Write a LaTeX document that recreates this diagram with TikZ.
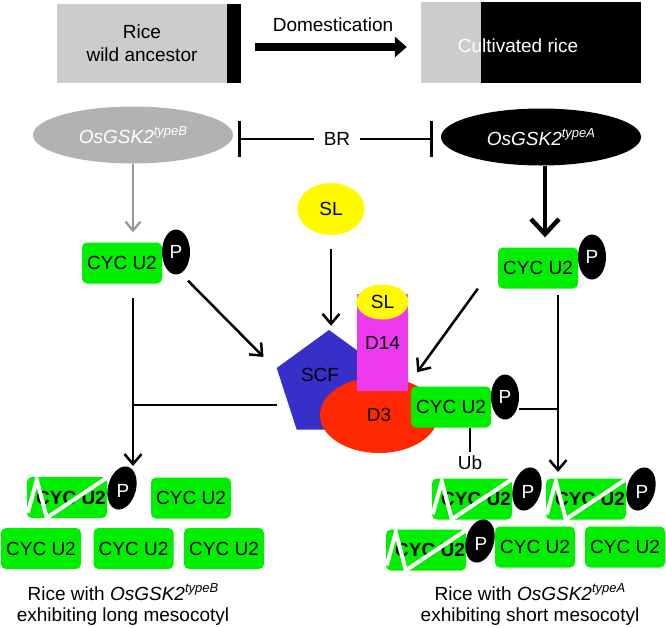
\documentclass[tikz,border=0pt]{standalone}
\usepackage{fontspec}
\setmainfont{Liberation Sans}
\usetikzlibrary{arrows.meta,shapes.geometric}
\definecolor{cgreen}{RGB}{0,238,0}
\definecolor{topgray}{RGB}{204,204,204}
\definecolor{ellgray}{RGB}{178,178,178}
\definecolor{arrgray}{RGB}{150,150,150}
\definecolor{scfblue}{RGB}{56,46,200}
\definecolor{dmag}{RGB}{238,58,238}
\definecolor{dred}{RGB}{255,40,0}
\definecolor{slyellow}{RGB}{255,250,0}
\newcommand\supit[1]{\raisebox{0.42em}{\fontsize{13}{13}\selectfont\itshape #1}}
\begin{document}
\begin{tikzpicture}[x=1pt,y=-1pt,
 every node/.style={font=\fontsize{19}{23}\selectfont, inner sep=0pt},
 cyc/.style={rectangle, rounded corners=5pt, fill=cgreen, minimum width=80pt, minimum height=41pt},
 xcyc/.style={cyc, font=\fontsize{19}{23}\selectfont\bfseries},
 pblob/.style={ellipse, fill=black, text=white, minimum width=28pt, minimum height=45pt},
 ptext/.style={text=white},
 arr/.style={draw=black, line width=2.5pt, -{Straight Barb[length=10pt,width=17pt]}},
 bigarr/.style={draw=black, line width=4.5pt, -{Straight Barb[length=15pt,width=28pt]}},
 grayarr/.style={draw=arrgray, line width=2.2pt, -{Straight Barb[length=9pt,width=15pt]}},
 domarr/.style={draw=black, line width=8pt, -{Triangle[length=12pt,width=20pt]}},
 inh/.style={draw=black, line width=2.5pt, {Bar[width=36pt]}-{Bar[width=36pt]}},
 plain/.style={draw=black, line width=2.5pt},
 zig/.style={draw=white, line width=4pt, line join=miter},
 blob/.style={fill=black}
]
\useasboundingbox (0,0) rectangle (666,627);

% ---------- top row ----------
\node[rectangle, fill=topgray, minimum width=170pt, minimum height=79pt, align=center] (wild) at (142,43.5) {Rice\\wild ancestor};
\fill[black] (wild.north east) rectangle ([xshift=14pt]wild.south east);
\node[rectangle, fill=black, minimum width=220pt, minimum height=81pt] (cultbox) at (531,42.5) {};
\fill[topgray] (cultbox.north west) rectangle ([xshift=60pt]cultbox.south west);
\node[text=white] (cult) at (518,46) {Cultivated rice};
\node (dom) at (333,25) {Domestication};
\draw[domarr, shorten <=14pt, shorten >=14pt] ([xshift=14pt, yshift=-3.5pt]wild.east) -- ([yshift=-4.5pt]cultbox.west);

% ---------- GSK2 ellipses ----------
\node[ellipse, fill=ellgray, text=white, minimum width=200pt, minimum height=57pt] (gsB) at (133,135) {\textit{OsGSK2}\supit{typeB}};
\node[ellipse, fill=black, text=white, minimum width=200pt, minimum height=57pt] (gsA) at (541,137) {\textit{OsGSK2}\supit{typeA}};
\draw[inh, shorten <=5pt, shorten >=8pt] ([yshift=-4pt]gsB.east) -- ([yshift=-2pt]gsA.west)
  node[midway, fill=white, inner xsep=10pt, inner ysep=3pt] (br) {BR};

% ---------- SL ----------
\node[ellipse, fill=slyellow, minimum width=67pt, minimum height=52pt] (sl) at (331,209) {SL};

% ---------- CYC U2 with P (upper) ----------
\node[cyc] (cycL) at (122,263) {CYC U2};
\node[pblob] (pL) at (176,252) {\raisebox{-3pt}{P}};
\node[cyc] (cycR) at (538,268) {CYC U2};
\node[pblob] (pR) at (592,257) {\raisebox{-3pt}{P}};

\draw[grayarr, shorten >=10pt] (gsB.south) -- (gsB.south |- cycL.north);
\draw[bigarr, shorten >=10pt] ([xshift=4pt]gsA.south) -- ([xshift=4pt]gsA.south |- cycR.north);

% ---------- SCF complex ----------
\node[regular polygon, regular polygon sides=5, fill=scfblue, minimum size=110pt] (scf) at (329,385) {};
\node (scft) at (320,375) {SCF};
\node[ellipse, fill=dred, minimum width=118pt, minimum height=76pt] (d3) at (379,415) {D3};
\node[rectangle, fill=dmag, minimum width=51pt, minimum height=97pt] (d14) at (382.5,342.5) {D14};
\node[ellipse, fill=slyellow, minimum width=52pt, minimum height=35pt] (sl2) at (382.5,302) {SL};
\node[cyc] (cycM) at (451,407) {CYC U2};
\node[pblob] (pM) at (505,397) {\raisebox{-3pt}{P}};
\node (ub) at (470,463) {Ub};
\draw[plain] ([xshift=19pt]cycM.south) -- ([yshift=4pt]ub.north);

\draw[arr, shorten <=14pt, shorten >=4pt] (sl.south) -- (sl.south |- scf.corner 1);
\draw[arr] ([shift={(12,6)}]pL.south) -- ([shift={(-13,-11)}]scf.corner 2);
\draw[arr] ([xshift=-20pt]cycR.south west) -- ([shift={(9,-19)}]d14.south east);

% ---------- vertical arrows & inhibition ----------
\coordinate (vL1) at (133,298);
\coordinate (vL2) at (133,466);
\coordinate (vR1) at (558,295);
\coordinate (vR2) at (558,472);
\draw[arr] (vL1) -- (vL2);
\draw[arr] (vR1) -- (vR2);
\coordinate (mL) at (277,405);
\draw[plain] (mL) -- (mL -| vL1);
\coordinate (mR) at ([yshift=-12pt]pM.east);
\draw[plain] (mR) -- (mR -| vR1);

% ---------- bottom left ----------
\node[xcyc] (xL1) at (67,497.5) {\hspace*{8pt}CYC U2};
\draw[zig] ([shift={(1,36)}]xL1.north west) -- ([shift={(10,3)}]xL1.north west) -- ([shift={(20,41)}]xL1.north west) -- ([shift={(86,-3)}]xL1.north west);
\coordinate (cxL1) at (122,488);
\fill[blob, rotate around={-15:(cxL1)}] (cxL1) ellipse [x radius=14, y radius=22];
\node[ptext] (pxL1) at (123,491) {P};
\node[cyc] (bL1) at (191,498) {CYC U2};
\node[cyc] (bL2) at (41,548.5) {CYC U2};
\node[cyc] (bL3) at (133.5,548.5) {CYC U2};
\node[cyc] (bL4) at (224,548.5) {CYC U2};
\node[align=center, font=\fontsize{19}{21}\selectfont] (capL) at (123,604) {Rice with \textit{OsGSK2}\supit{typeB}\\exhibiting long mesocotyl};

% ---------- bottom right ----------
\node[xcyc] (xR1) at (472,499) {\hspace*{8pt}CYC U2};
\draw[zig] ([shift={(1,36)}]xR1.north west) -- ([shift={(10,3)}]xR1.north west) -- ([shift={(20,41)}]xR1.north west) -- ([shift={(86,-3)}]xR1.north west);
\coordinate (cxR1) at (527,489);
\fill[blob, rotate around={-15:(cxR1)}] (cxR1) ellipse [x radius=14, y radius=22];
\node[ptext] (pxR1) at (528,492) {P};

\node[xcyc] (xR2) at (586,499) {\hspace*{8pt}CYC U2};
\draw[zig] ([shift={(1,36)}]xR2.north west) -- ([shift={(10,3)}]xR2.north west) -- ([shift={(20,41)}]xR2.north west) -- ([shift={(86,-3)}]xR2.north west);
\coordinate (cxR2) at (641,489);
\fill[blob, rotate around={-15:(cxR2)}] (cxR2) ellipse [x radius=14, y radius=22];
\node[ptext] (pxR2) at (642,492) {P};

\node[xcyc] (xR3) at (426,550) {\hspace*{8pt}CYC U2};
\draw[zig] ([shift={(1,36)}]xR3.north west) -- ([shift={(10,3)}]xR3.north west) -- ([shift={(20,41)}]xR3.north west) -- ([shift={(86,-3)}]xR3.north west);
\coordinate (cxR3) at (480,541);
\fill[blob, rotate around={-15:(cxR3)}] (cxR3) ellipse [x radius=14, y radius=22];
\node[ptext] (pxR3) at (481,544) {P};

\node[cyc] (bR4) at (535,547) {CYC U2};
\node[cyc] (bR5) at (625,547) {CYC U2};
\node[align=center, font=\fontsize{19}{21}\selectfont] (capR) at (530,604) {Rice with \textit{OsGSK2}\supit{typeA}\\exhibiting short mesocotyl};
\end{tikzpicture}
\end{document}
